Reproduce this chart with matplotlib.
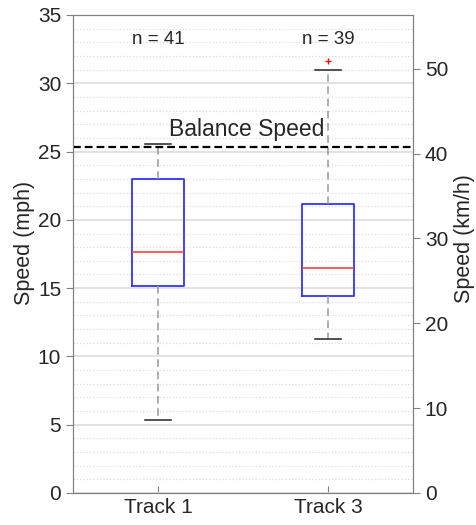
import numpy as np
import matplotlib.pyplot as plt
from matplotlib.ticker import MultipleLocator

# box statistics (mph)
tracks = ['Track 1', 'Track 3']
counts = [41, 39]
whislo = [5.35, 11.3]
q1 = [15.13, 14.42]
med = [17.62, 16.5]
q3 = [22.97, 21.16]
whishi = [25.53, 31.0]
fliers = [[], [31.65]]
balance_speed = 25.36
mph_to_kmh = 1.609344

plt.rcParams['font.family'] = ['Liberation Sans', 'DejaVu Sans']
txt = '#262626'

fig = plt.figure(figsize=(4.76, 5.25), dpi=100)
ax = fig.add_axes([73/476, 1-493/525, 340/476, 478/525])

stats = []
for i in range(len(tracks)):
    stats.append(dict(label=tracks[i], whislo=whislo[i], q1=q1[i], med=med[i],
                      q3=q3[i], whishi=whishi[i], fliers=fliers[i]))

pos = np.arange(1, len(tracks)+1)
ax.bxp(stats, positions=pos, widths=0.305, showfliers=True,
       boxprops=dict(color='#3333ff', lw=1.3),
       medianprops=dict(color='#ff3333', lw=1.1),
       whiskerprops=dict(color='#999999', ls=(0, (5, 3)), lw=1.1),
       capprops=dict(color='#222222', lw=1.1), capwidths=0.15,
       flierprops=dict(marker='+', markeredgecolor='red', markersize=5, markeredgewidth=1))

ax.axhline(balance_speed, color='black', ls=(0, (3.5, 1.8)), lw=1.6, zorder=5, clip_on=False)
ax.text(1.52, 26.65, 'Balance Speed', ha='center', va='center', fontsize=16.5, color=txt)
for p, n in zip(pos, counts):
    ax.text(p, 33.2, 'n = %d' % n, ha='center', va='center', fontsize=13.5, color=txt)

ax.set_xlim(0.5, 2.5)
ax.set_ylim(0, 35)
ax.yaxis.set_major_locator(MultipleLocator(5))
ax.yaxis.set_minor_locator(MultipleLocator(1))
ax.grid(axis='y', which='major', color='#dddddd', lw=1.2, zorder=0)
ax.grid(axis='y', which='minor', color='#dddddd', ls=':', lw=0.9, zorder=0)
ax.set_axisbelow(True)
ax.set_xticks(pos)
ax.set_xticklabels(tracks)
ax.set_ylabel('Speed (mph)', fontsize=15.5, color=txt, labelpad=2, y=0.523)
ax.tick_params(axis='y', which='major', direction='out', length=5, labelsize=15,
               labelcolor=txt, color='#808080')
ax.tick_params(axis='y', which='minor', length=0)
ax.tick_params(axis='x', direction='in', length=5, labelsize=15, labelcolor=txt,
               color='#808080')
for s in ax.spines.values():
    s.set_color('#808080')

ax2 = ax.twinx()
ax2.set_ylim(0, 35*mph_to_kmh)
ax2.yaxis.set_major_locator(MultipleLocator(10))
ax2.set_ylabel('Speed (km/h)', fontsize=15.5, color=txt, labelpad=4, y=0.533)
ax2.tick_params(axis='y', direction='out', length=5, labelsize=15, labelcolor=txt,
                color='#808080')
for s in ax2.spines.values():
    s.set_color('#808080')

plt.savefig('out.png', dpi=100)
